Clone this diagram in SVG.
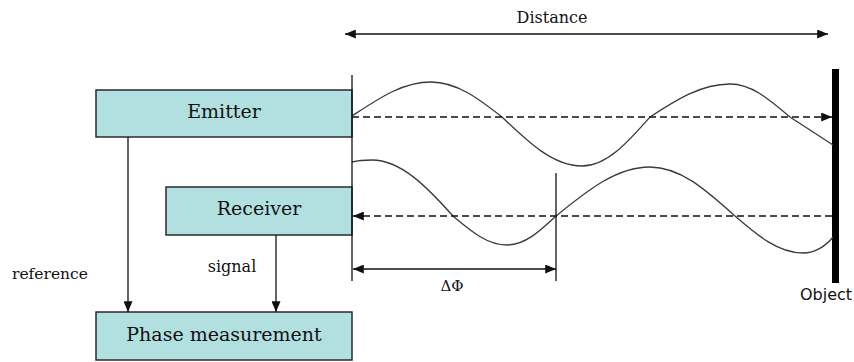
<svg xmlns="http://www.w3.org/2000/svg" width="854" height="362" viewBox="0 0 854 362">
<style>
.box{fill:#b2dfdf;stroke:#2a2a2a;stroke-width:1.5}
.lbl{font-family:"DejaVu Serif","Liberation Serif",serif;fill:#111;text-anchor:middle}
.ln{stroke:#111;stroke-width:1.3;fill:none}
.dash{stroke:#111;stroke-width:1.3;fill:none;stroke-dasharray:7 4}
.wave{stroke:#3a3a3a;stroke-width:1.3;fill:none}
</style>
<defs>
<marker id="ah" viewBox="0 0 12 10" refX="12" refY="5" markerWidth="12" markerHeight="9" markerUnits="userSpaceOnUse" orient="auto-start-reverse">
<path d="M0,0 L12,5 L0,10 Z" fill="#111"/>
</marker>
</defs>
<rect width="854" height="362" fill="#fff"/>

<g id="emitter">
<rect class="box" x="96" y="90" width="256" height="47"/>
<text class="lbl" x="224" y="118" font-size="19">Emitter</text>
</g>
<g id="receiver">
<rect class="box" x="166" y="187" width="186" height="48"/>
<text class="lbl" x="259" y="215" font-size="19">Receiver</text>
</g>
<g id="phase">
<rect class="box" x="96" y="312" width="256" height="48"/>
<text class="lbl" x="224" y="341" font-size="19">Phase measurement</text>
</g>
<g id="object">
<rect x="832" y="69" width="7" height="214" fill="#000"/>
<text x="826" y="300" font-family="DejaVu Sans,Liberation Sans,sans-serif" font-size="16" text-anchor="middle" fill="#111">Object</text>
</g>

<g id="waves">
<path class="wave" d="M352,116 C378,99 402,82 431,82 C457,82 479,99 502,117 C528,142 553,166 582,166 C607,166 628,142 650,117 C676,100 701,84 730,84 C752,84 770,100 790,117 C804,126 819,136 833,145"/>
<path class="wave" d="M352,162 C360,160 365,160 372,160 C401,160 427,187 453,216 C471,231 487,245 507,245 C525,245 540,231 556,216 C587,191 616,167 650,167 C681,167 707,191 735,216 C757,235 778,253 803,253 C815,253 826,246 833,237"/>
</g>

<g id="connectors">
<line class="ln" x1="352" y1="75" x2="352" y2="281"/>
<line class="ln" x1="556" y1="173" x2="556" y2="281"/>
<line class="ln" x1="345" y1="34" x2="828" y2="34" marker-start="url(#ah)" marker-end="url(#ah)"/>
<line class="dash" x1="352" y1="117" x2="832" y2="117" marker-end="url(#ah)"/>
<line class="dash" x1="832" y1="216" x2="353" y2="216" marker-end="url(#ah)"/>
<line class="ln" x1="353" y1="269" x2="556" y2="269" marker-start="url(#ah)" marker-end="url(#ah)"/>
<line class="ln" x1="128" y1="137" x2="128" y2="312" marker-end="url(#ah)"/>
<line class="ln" x1="276" y1="235" x2="276" y2="312" marker-end="url(#ah)"/>
</g>

<g id="labels">
<text class="lbl" x="552" y="23" font-size="16">Distance</text>
<text class="lbl" x="50" y="279" font-size="15.5">reference</text>
<text class="lbl" x="232" y="272" font-size="16">signal</text>
<text class="lbl" x="452" y="291" font-size="15">ΔΦ</text>
</g>
</svg>
